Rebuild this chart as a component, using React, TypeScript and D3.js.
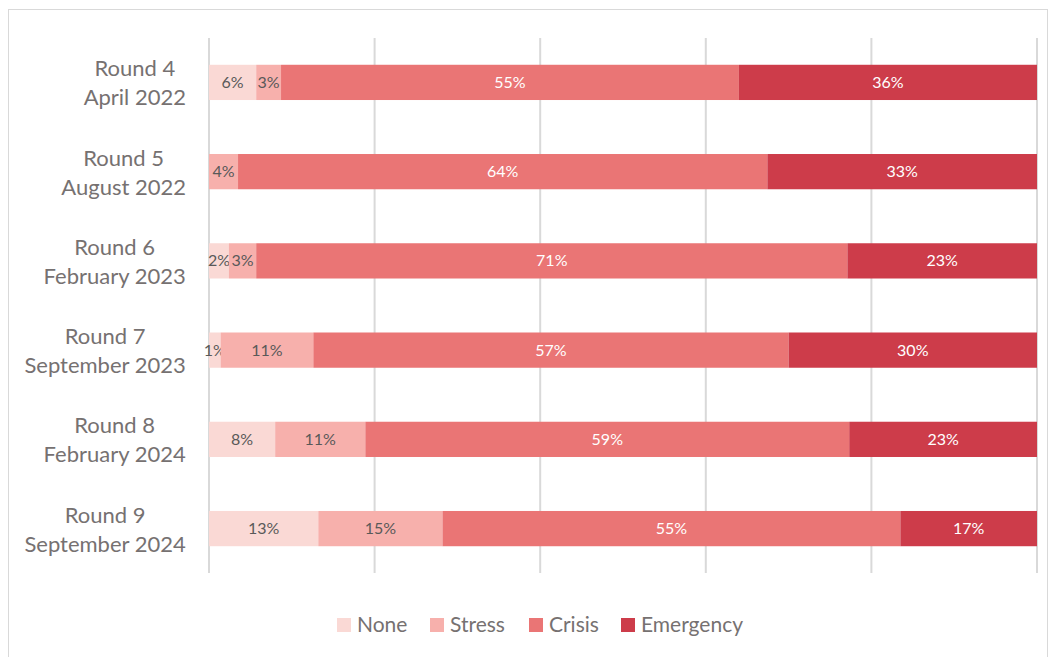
import React from "react";
import * as d3 from "d3";

const categories = [
  ["Round 4", "April 2022"],
  ["Round 5", "August 2022"],
  ["Round 6", "February 2023"],
  ["Round 7", "September 2023"],
  ["Round 8", "February 2024"],
  ["Round 9", "September 2024"],
];
const seriesNames = ["None", "Stress", "Crisis", "Emergency"];
const noneVals = [5.7, 0, 2.4, 1.4, 8.0, 13.2];
const stressVals = [3.0, 3.5, 3.3, 11.2, 10.9, 15.0];
const crisisVals = [55.3, 63.8, 71.4, 57.4, 58.5, 55.3];
const emergencyVals = [36.0, 32.5, 22.9, 30.0, 22.7, 16.5];
const xTicks = [0, 20, 40, 60, 80, 100];

const colors = ["#FAD9D5", "#F7B0AC", "#EA7575", "#CD3C4A"];
const labelColors = ["#595959", "#595959", "#FFFFFF", "#FFFFFF"];
const FONT = "Lato, 'Open Sans', sans-serif";
const CAT_SIZE = 22;

function measure(text: string, size: number): number {
  if (typeof document === "undefined") return text.length * size * 0.5;
  const c = document.createElement("canvas").getContext("2d");
  if (!c) return text.length * size * 0.5;
  c.font = `${size}px Lato, 'Open Sans', sans-serif`;
  return c.measureText(text).width;
}

export default function App() {
  const W = 1058, H = 657;
  const left = 209, right = 1037, top = 38, bottom = 573;
  const allVals = [noneVals, stressVals, crisisVals, emergencyVals];
  const rows = categories.map((c, i) => {
    const obj: any = { key: c.join(" ") };
    seriesNames.forEach((s, j) => (obj[s] = allVals[j][i]));
    return obj;
  });
  const stack = d3.stack<any>().keys(seriesNames).offset(d3.stackOffsetExpand);
  const layers = stack(rows);
  const x = d3.scaleLinear().domain([0, 1]).range([left, right]);
  const y = d3
    .scaleBand()
    .domain(rows.map((r) => r.key))
    .range([top, bottom])
    .paddingInner(0.605)
    .paddingOuter(0.3);

  const legendItems = [
    { name: "None", x: 337 },
    { name: "Stress", x: 430 },
    { name: "Crisis", x: 529 },
    { name: "Emergency", x: 621 },
  ];

  return (
    <svg width={W} height={H} style={{ position: "absolute", left: 0, top: 0 }}>
      <rect x={0} y={0} width={W} height={H} fill="#fff" />
      <rect x={8.5} y={9.5} width={1039} height={660} fill="none" stroke="#D9D9D9" strokeWidth={1} />
      {xTicks.map((t) => (
        <line
          key={t}
          x1={x(t / 100)}
          x2={x(t / 100)}
          y1={top}
          y2={bottom}
          stroke="#D9D9D9"
          strokeWidth={2}
        />
      ))}
      {layers.map((layer, j) => (
        <g key={layer.key}>
          {layer.map((d, i) => {
            const x0 = x(d[0]);
            const x1 = x(d[1]);
            const yy = y(rows[i].key)!;
            const v = allVals[j][i];
            return (
              <g key={i}>
                <rect x={x0} y={yy} width={Math.max(0, x1 - x0)} height={y.bandwidth()} fill={colors[j]} />
                {v > 0 && (
                  <text
                    x={(x0 + x1) / 2}
                    y={yy + y.bandwidth() / 2}
                    dy="0.35em"
                    textAnchor="middle"
                    fontFamily={FONT}
                    fontSize={16}
                    fill={labelColors[j]}
                  >
                    {Math.round(v)}%
                  </text>
                )}
              </g>
            );
          })}
        </g>
      ))}
      {rows.map((r, i) => {
        const cy = y(r.key)! + y.bandwidth() / 2;
        const maxW = Math.max(measure(categories[i][0], CAT_SIZE), measure(categories[i][1], CAT_SIZE));
        const cx = 186 - maxW / 2;
        return (
          <text key={r.key} textAnchor="middle" fontFamily={FONT} fontSize={CAT_SIZE} fill="#767171">
            <tspan x={cx} y={cy - 6}>{categories[i][0]}</tspan>
            <tspan x={cx} y={cy + 23}>{categories[i][1]}</tspan>
          </text>
        );
      })}
      {legendItems.map((l, i) => (
        <g key={l.name}>
          <rect x={l.x} y={618} width={14} height={14} fill={colors[i]} />
          <text x={l.x + 20} y={625} dy="0.35em" fontFamily={FONT} fontSize={21} fill="#767171">
            {l.name}
          </text>
        </g>
      ))}
    </svg>
  );
}
